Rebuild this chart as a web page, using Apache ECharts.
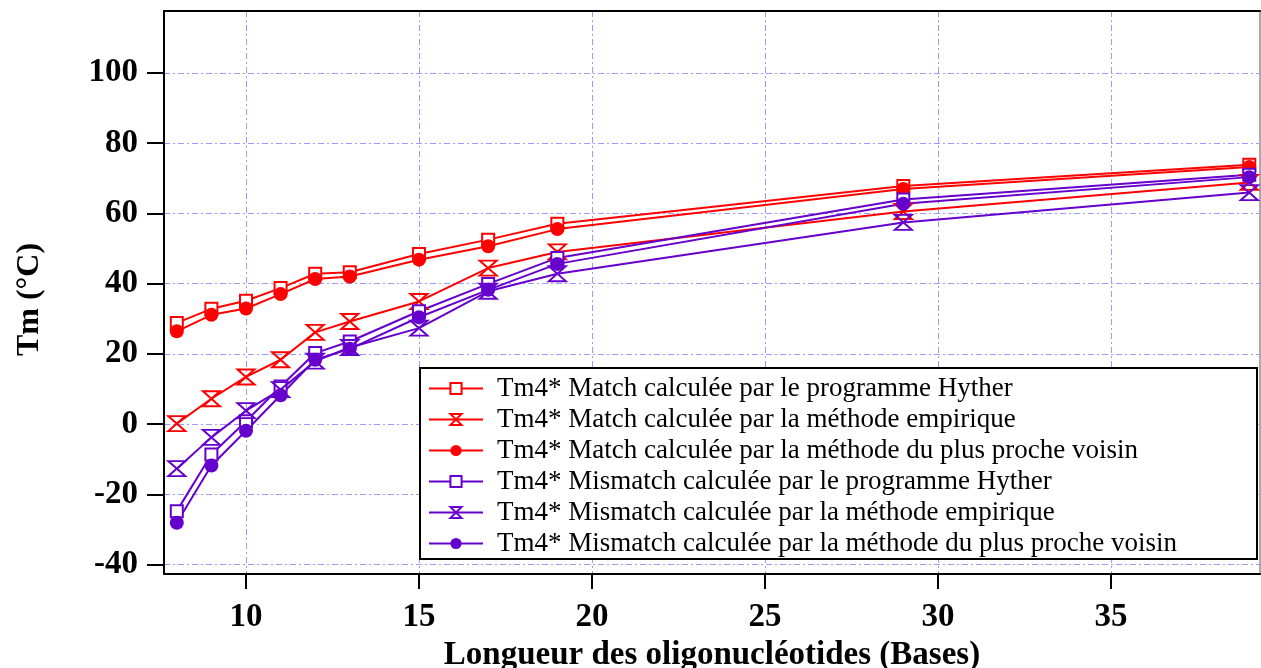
<!DOCTYPE html>
<html>
<head>
<meta charset="UTF-8">
<title>Tm vs longueur</title>
<script src="https://cdn.jsdelivr.net/npm/echarts@6/dist/echarts.min.js"></script>
<style>
  html, body { margin: 0; padding: 0; background: #fff; }
  #main { width: 1261px; height: 668px; }
</style>
</head>
<body>
<div id="main"></div>
<script type="text/javascript">
    // longueur des oligos (bases)
    var lengths = [8, 9, 10, 11, 12, 13, 15, 17, 19, 29, 39];

    // Tm4* valeurs
    var matchHyther   = [28.8, 32.8, 35.1, 38.7, 42.8, 43.2, 48.4, 52.5, 57.0, 67.8, 73.8];
    var matchEmpir    = [0.1, 7.2, 13.4, 18.3, 26.1, 29.2, 34.9, 44.4, 49.0, 60.5, 68.8];
    var matchVoisin   = [26.4, 31.1, 32.9, 37.0, 41.3, 42.0, 46.8, 50.6, 55.5, 66.9, 73.2];
    var misHyther     = [-24.8, -8.7, 0.8, 10.7, 20.2, 23.5, 32.1, 39.9, 47.3, 63.9, 71.0];
    var misEmpir      = [-12.7, -3.8, 3.8, 9.8, 17.9, 21.8, 27.3, 37.8, 42.8, 57.4, 65.9];
    var misVoisin     = [-28.1, -11.8, -1.9, 8.2, 18.3, 21.4, 30.4, 38.2, 45.6, 62.7, 70.3];

    var seriesNames = [
        'Tm4* Match calculée par le programme Hyther',
        'Tm4* Match calculée par la méthode empirique',
        'Tm4* Match calculée par la méthode du plus proche voisin',
        'Tm4* Mismatch calculée par le programme Hyther',
        'Tm4* Mismatch calculée par la méthode empirique',
        'Tm4* Mismatch calculée par la méthode du plus proche voisin'
    ];

    var xTicks = [10, 15, 20, 25, 30, 35];
    var yTicks = [-40, -20, 0, 20, 40, 60, 80, 100];

    var RED = '#ff0000';
    var PURPLE = '#6600cc';
    var HOURGLASS = 'path://M0,0L10,0L0,10L10,10Z';
    var FONT = 'Liberation Serif';

    function pairs(ys) {
        return lengths.map(function (x, i) { return [x, ys[i]]; });
    }

    function makeSeries(name, ys, color, kind) {
        var s = {
            name: name,
            type: 'line',
            data: pairs(ys),
            lineStyle: { color: color, width: 2 },
            emphasis: { disabled: true }
        };
        if (kind === 'square') {
            s.symbol = 'rect';
            s.symbolSize = 12;
            s.itemStyle = { color: '#fff', borderColor: color, borderWidth: 2 };
        } else if (kind === 'hourglass') {
            s.symbol = HOURGLASS;
            s.symbolSize = [17, 15];
            s.itemStyle = { color: 'rgba(255,255,255,0)', borderColor: color, borderWidth: 2 };
        } else {
            s.symbol = 'circle';
            s.symbolSize = 14;
            s.itemStyle = { color: color, borderColor: color, borderWidth: 0 };
        }
        return s;
    }

    var myChart = echarts.init(document.getElementById('main'));

    var gridLine = { color: '#9a9aff', width: 1, type: [6, 3, 2, 3] };

    var option = {
        animation: false,
        backgroundColor: '#fff',
        grid: { left: 164, right: 1, top: 11, bottom: 94, outerBoundsMode: 'none', containLabel: false },
        xAxis: [{
            type: 'value',
            min: 7.63,
            max: 39.31,
            axisLine: { onZero: false, lineStyle: { color: '#000', width: 2 } },
            axisTick: { show: true, customValues: xTicks, length: 15, lineStyle: { color: '#000', width: 2 } },
            axisLabel: {
                customValues: xTicks, margin: 27, color: '#000',
                fontFamily: FONT, fontWeight: 'bold', fontSize: 33
            },
            splitLine: { show: true, lineStyle: gridLine },
            name: 'Longueur des oligonucléotides (Bases)',
            nameLocation: 'middle',
            nameGap: 64,
            nameTextStyle: { color: '#000', fontFamily: FONT, fontWeight: 'bold', fontSize: 33 }
        }, {
            type: 'value',
            position: 'top',
            min: 7.63,
            max: 39.31,
            axisLine: { show: true, onZero: false, lineStyle: { color: '#000', width: 2 } },
            axisTick: { show: false },
            axisLabel: { show: false },
            splitLine: { show: false }
        }],
        yAxis: [{
            type: 'value',
            min: -42.7,
            max: 117.6,
            axisLine: { show: true, onZero: false, lineStyle: { color: '#000', width: 2 } },
            axisTick: { show: true, customValues: yTicks, length: 17, lineStyle: { color: '#000', width: 2 } },
            axisLabel: {
                customValues: yTicks, margin: 26, color: '#000',
                fontFamily: FONT, fontWeight: 'bold', fontSize: 33
            },
            splitLine: { show: true, lineStyle: gridLine },
            name: 'Tm (°C)',
            nameLocation: 'middle',
            nameRotate: 90,
            nameGap: 118,
            nameTextStyle: { color: '#000', fontFamily: FONT, fontWeight: 'bold', fontSize: 32, padding: [0, 14, 0, 0] }
        }, {
            type: 'value',
            position: 'right',
            min: -42.7,
            max: 117.6,
            axisLine: { show: true, onZero: false, lineStyle: { color: '#aaaaaa', width: 2 } },
            axisTick: { show: false },
            axisLabel: { show: false },
            splitLine: { show: false }
        }],
        legend: {
            orient: 'vertical',
            left: 428,
            top: 375,
            padding: 0,
            itemWidth: 54,
            itemHeight: 14,
            itemGap: 4,
            selectedMode: false,
            textStyle: { color: '#000', fontFamily: FONT, fontSize: 27, lineHeight: 26, padding: [0, 0, 0, 9] },
            data: seriesNames
        },
        graphic: [{
            type: 'rect',
            z: 3,
            shape: { x: 420, y: 368, width: 837, height: 191 },
            style: { fill: '#fff', stroke: '#000', lineWidth: 2 }
        }],
        series: [
            makeSeries(seriesNames[0], matchHyther, RED, 'square'),
            makeSeries(seriesNames[1], matchEmpir, RED, 'hourglass'),
            makeSeries(seriesNames[2], matchVoisin, RED, 'circle'),
            makeSeries(seriesNames[3], misHyther, PURPLE, 'square'),
            makeSeries(seriesNames[4], misEmpir, PURPLE, 'hourglass'),
            makeSeries(seriesNames[5], misVoisin, PURPLE, 'circle')
        ]
    };

    myChart.setOption(option);
</script>
</body>
</html>
